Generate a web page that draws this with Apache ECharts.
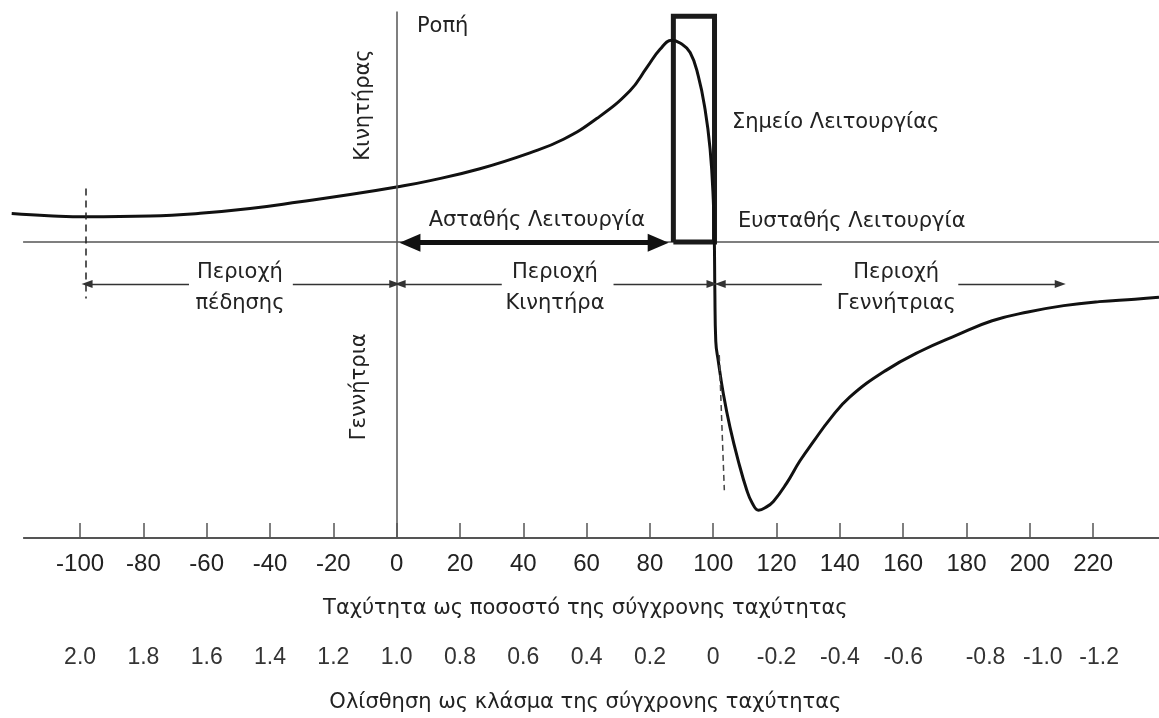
<!DOCTYPE html>
<html>
<head>
<meta charset="utf-8">
<script src="https://cdn.jsdelivr.net/npm/echarts/dist/echarts.min.js"></script>
<style>
html,body{margin:0;padding:0;background:#fff;}
#chart{width:1159px;height:718px;}
</style>
</head>
<body>
<div id="chart"></div>
<script>
// ---- data (speed in % of synchronous speed, torque in arbitrary %) ----
const speed = [-121.6, -110, -98.1, -77.9, -62.1, -46.3, -30.5, -14.7, 0, 10.6, 26.3, 42.1, 52.7, 63.2, 73.7, 79.0, 83.2, 86.9, 89.5, 92.7, 95.3, 97.4, 99.0, 100.0, 100.35, 100.5, 100.8, 101.6, 103.2, 105.3, 107.9, 110.6, 112.3, 114.3, 116.4, 119.0, 123.2, 127.4, 131.8, 137.0, 143.1, 154.3, 165.6, 176.9, 188.1, 199.4, 210.7, 221.9, 233.2, 240.8];
const torque = [35.6, 33, 31.5, 32.5, 36, 42, 50.5, 59.5, 69, 77, 92, 112, 129, 155, 190, 219, 242, 253.5, 250, 238, 208, 167, 117, 54, 0, -60, -125, -150, -191, -233, -275, -312, -328, -337, -334, -326, -303, -275, -250, -222, -195, -162, -137, -117, -99, -88, -80, -75, -72, -69.5];
const speedTicks = [-100, -80, -60, -40, -20, 0, 20, 40, 60, 80, 100, 120, 140, 160, 180, 200, 220];
const slipLabels = ['2.0', '1.8', '1.6', '1.4', '1.2', '1.0', '0.8', '0.6', '0.4', '0.2', '0', '-0.2', '-0.4', '-0.6', '-0.8', '-1.0', '-1.2'];
const xRange = [-121.6, 240.8];
const yRange = [-372, 304];
const lineStart = -118;          // where the reference lines begin
const torqueAxisTop = 289.4;     // top of the vertical torque axis
const operatingBox = [87.4, 100.4, 0, 283.5]; // speed from, speed to, torque from, torque to
const brakingLimit = -98.1;      // dashed line at left
const unstableArrow = [4.2, 82.6, -1];
const regionY = -53;
const regions = [
  {name: ['Περιοχή', 'πέδησης'], from: -97.8, to: -0.6, gap: [-65.6, -32.8], mid: -49.5},
  {name: ['Περιοχή', 'Κινητήρα'], from: 1.1, to: 99.6, gap: [33.2, 68.5], mid: 50},
  {name: ['Περιοχή', 'Γεννήτριας'], from: 102.2, to: 209.6, gap: [134.3, 177.4], mid: 157.8}
];
const slipDash = [[101.9, -142], [103.5, -312]];

const GREEK = '"DejaVu Sans", "Noto Sans", sans-serif';
const NUM = '"Liberation Sans", Arial, sans-serif';

const chart = echarts.init(document.getElementById('chart'), null, {renderer: 'canvas'});

const tickLabelMap = {};
speedTicks.forEach((t, i) => { tickLabelMap[t] = slipLabels[i]; });
// the last three slip labels sit a little to the right of their speed ticks
const slipLabelStyle = {180: 'a', 200: 'b', 220: 'c'};

const thin = {color: '#555', width: 1.5, type: 'solid'};

function regionLines() {
  const out = [];
  regions.forEach(r => {
    out.push([{coord: [r.from, regionY], symbol: 'triangle', symbolSize: [8, 11]}, {coord: [r.gap[0], regionY], symbol: 'none'}]);
    out.push([{coord: [r.gap[1], regionY], symbol: 'none'}, {coord: [r.to, regionY], symbol: 'triangle', symbolSize: [8, 11]}]);
  });
  return out;
}

const option = {
  animation: false,
  backgroundColor: '#fff',
  grid: {left: 11.7, right: 0, top: 0, bottom: 177, containLabel: false},
  xAxis: [
    {
      type: 'value', min: xRange[0], max: xRange[1], position: 'bottom',
      axisLine: {show: false, onZero: false},
      axisTick: {show: true, inside: true, length: 15, customValues: speedTicks, lineStyle: {color: '#555', width: 1.5}},
      axisLabel: {show: true, customValues: speedTicks, fontSize: 24, fontFamily: NUM, color: '#222', margin: 14},
      splitLine: {show: false},
      name: 'Ταχύτητα ως ποσοστό της σύγχρονης ταχύτητας',
      nameLocation: 'middle', nameGap: 60,
      nameTextStyle: {fontSize: 21, fontFamily: GREEK, color: '#222'}
    },
    {
      type: 'value', min: xRange[0], max: xRange[1], position: 'bottom', offset: 95,
      axisLine: {show: false, onZero: false},
      axisTick: {show: false},
      axisLabel: {show: true, customValues: speedTicks, fontSize: 23, fontFamily: NUM, color: '#333', margin: 13,
        formatter: v => {
          const k = Math.round(v);
          const t = tickLabelMap[k] ?? '';
          return slipLabelStyle[k] ? '{' + slipLabelStyle[k] + '|' + t + '}' : t;
        },
        rich: {
          a: {fontSize: 23, fontFamily: NUM, color: '#333', padding: [0, 0, 0, 38]},
          b: {fontSize: 23, fontFamily: NUM, color: '#333', padding: [0, 0, 0, 26]},
          c: {fontSize: 23, fontFamily: NUM, color: '#333', padding: [0, 0, 0, 12]}
        }
      },
      splitLine: {show: false},
      name: 'Ολίσθηση ως κλάσμα της σύγχρονης ταχύτητας',
      nameLocation: 'middle', nameGap: 59,
      nameTextStyle: {fontSize: 21, fontFamily: GREEK, color: '#222'}
    }
  ],
  yAxis: {
    type: 'value', min: yRange[0], max: yRange[1],
    axisLine: {show: false, onZero: false}, axisTick: {show: false}, axisLabel: {show: false}, splitLine: {show: false}
  },
  series: [
    { // zero (torque) line
      type: 'line', symbol: 'none', clip: false, silent: true,
      data: [[lineStart, 0], [xRange[1], 0]], lineStyle: thin,
      markLine: {
        silent: true, animation: false, label: {show: false}, symbol: ['none', 'none'],
        data: [
          // bottom axis line
          [{coord: [lineStart, yRange[0]], lineStyle: {color: '#555', width: 2, type: 'solid'}}, {coord: [xRange[1], yRange[0]]}],
          // vertical torque axis
          [{coord: [0, yRange[0]], lineStyle: thin}, {coord: [0, torqueAxisTop]}],
          // dashed braking limit
          [{coord: [brakingLimit, 67], lineStyle: {color: '#222', width: 1.5, type: [7, 5]}}, {coord: [brakingLimit, -71]}],
          // dashed line near synchronous speed
          [{coord: slipDash[0], lineStyle: {color: '#444', width: 1.5, type: [6, 4]}}, {coord: slipDash[1]}],
          // thick unstable-operation arrow
          [{coord: [unstableArrow[0], unstableArrow[2]], symbol: 'triangle', symbolSize: [18, 21], lineStyle: {color: '#111', width: 5, type: 'solid'}},
           {coord: [unstableArrow[1], unstableArrow[2]], symbol: 'triangle', symbolSize: [18, 21]}]
        ].concat(regionLines().map(seg => {
          seg[0].lineStyle = {color: '#333', width: 1.4, type: 'solid'};
          return seg;
        })),
        itemStyle: {color: '#222'}
      }
    },
    { // operating point box
      type: 'line', symbol: 'none', silent: true, clip: false,
      data: [[operatingBox[0], operatingBox[2]], [operatingBox[0], operatingBox[3]], [operatingBox[1], operatingBox[3]], [operatingBox[1], operatingBox[2]], [operatingBox[0], operatingBox[2]]],
      lineStyle: {color: '#1a1a1a', width: 5, join: 'miter'}
    },
    { // torque-speed curve
      type: 'line', symbol: 'none', smooth: 0.45, silent: true,
      data: speed.map((s, i) => [s, torque[i]]),
      lineStyle: {color: '#111', width: 3}
    }
  ]
};
chart.setOption(option);

// ---- text annotations anchored in data coordinates ----
const notes = [
  {text: 'Ροπή', at: [6.4, 271], align: 'left'},
  {text: 'Κινητήρας', at: [-10.5, 172], rotate: true},
  {text: 'Γεννήτρια', at: [-11.6, -182], rotate: true},
  {text: 'Σημείο Λειτουργίας', at: [105.9, 150], align: 'left'},
  {text: 'Ασταθής Λειτουργία', at: [44.3, 27.5]},
  {text: 'Ευσταθής Λειτουργία', at: [107.8, 25.3], align: 'left'}
];
regions.forEach(r => {
  notes.push({text: r.name[0], at: [r.mid, -38]});
  notes.push({text: r.name[1], at: [r.mid, -77]});
});

const px = p => chart.convertToPixel({gridIndex: 0}, p);
const graphics = notes.map(n => {
  const p = px(n.at);
  return {
    type: 'text', x: p[0], y: p[1], rotation: n.rotate ? Math.PI / 2 : 0, silent: true,
    style: {
      text: n.text, fill: '#222', font: '21px ' + GREEK,
      textAlign: n.align || 'center', textVerticalAlign: 'middle',
      align: n.align || 'center', verticalAlign: 'middle'
    }
  };
});
chart.setOption({graphic: graphics});
</script>
</body>
</html>
